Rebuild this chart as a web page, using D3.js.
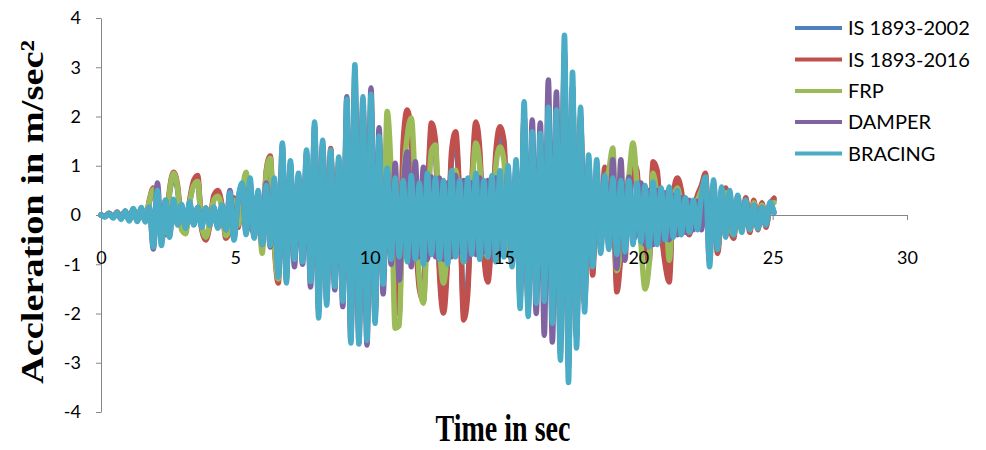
<!DOCTYPE html>
<html>
<head>
<meta charset="utf-8">
<script src="https://cdn.jsdelivr.net/npm/d3@7"></script>
<style>
  html, body { margin: 0; padding: 0; background: #fff; }
  svg { display: block; }
</style>
</head>
<body>
<svg id="chart" width="986" height="450"></svg>
<script>
// Storey acceleration response, sampled every 0.15 s from 0 to 25.05 s
const timeStep = 0.15;

const is2002 = [
  0, -0.03, 0.03, -0.04, 0.05, -0.06, 0.07, -0.09, 0.09, -0.09, 0.1, -0.1, 0.26,
  0.48, 0.3, -0.3, -0.35, 0.44, 0.76, 0.52, -0.18, -0.28, 0.26, 0.62, 0.7, -0.26, -0.45, -0.18, 0.35, 0.44, 0.18, -0.41, -0.26, 0.3, -0.22, 0.44, 0.66, -0.18, -0.3, 0.26,
  -0.57, 0.79, 1.05, -0.53, -1.2, 1.05, -1.05, 0.83, -0.75, 0.66, -0.75, 0.97, -1.05, 1.4, -1.58, 1.23, -1.4, 1.18, -1.15, 0.88,
  -1.32, 1.76, -2.02, 2.29, -2.1, 1.94, -2.02, 1.94, -1.76, 1.32, -1.14, 1.32, 0.7, -1.4, -1.76, 1.32, 1.87, 1.4, -0.26, -1.32,
  -1.54, 0.26, 1.65, 1.32, -1.05, -1.75, -0.8, 1.14, 1.49, 0.26, -1.87, -1.4, 0.53, 1.66, 1.14, -0.7, -1.2, -0.26, 1.14, 1.58,
  1.32, -0.53, -0.8, 0.8, -1.4, 1.76, -1.58, 1.32, -1.4, 1.32, -1.4, 1.67, -1.76, 1.67, -2.29, 2.82, -2.64, 2.29, -2.1, 1.76,
  -1.58, 0.88, -1.07, 0.62, -0.53, 0.85, -0.44, 0.53, -1.37, -0.7, 0.44, 0.26, 0.92, 0.79, -0.44, -0.53, -0.86, 0.95, 0.79, -0.26,
  -0.88, -1.2, 0.35, 0.66, 0.44, -0.18, -0.35, 0.09, 0.35, 0.53, 0.75, -0.53, 0.26, -0.69, 0.18, 0.48, -0.18, -0.41, 0.26, -0.26,
  0.31, -0.31, 0.26, -0.26, 0.22, -0.22, 0.18, 0.3
];

const is2016 = [
  0, -0.03, 0.04, -0.05, 0.06, -0.07, 0.08, -0.1, 0.1, -0.1, 0.12, -0.12, 0.3,
  0.55, 0.35, -0.35, -0.4, 0.5, 0.87, 0.6, -0.2, -0.32, 0.3, 0.7, 0.8, -0.3, -0.51, -0.2, 0.4, 0.5, 0.2, -0.47, -0.3, 0.35, -0.25, 0.5, 0.75, -0.2, -0.35, 0.3,
  -0.65, 0.9, 1.2, -0.6, -1.38, 1.2, -1.2, 0.95, -0.85, 0.75, -0.85, 1.1, -1.2, 1.6, -1.8, 1.4, -1.6, 1.35, -1.3, 1.0,
  -1.5, 2.0, -2.3, 2.6, -2.4, 2.2, -2.3, 2.2, -2.0, 1.5, -1.3, 1.5, 0.8, -1.6, -2.0, 1.5, 2.13, 1.6, -0.3, -1.5,
  -1.75, 0.3, 1.87, 1.5, -1.2, -1.99, -0.9, 1.3, 1.69, 0.3, -2.13, -1.6, 0.6, 1.89, 1.3, -0.8, -1.36, -0.3, 1.3, 1.79,
  1.5, -0.6, -0.9, 0.9, -1.6, 2.0, -1.8, 1.5, -1.6, 1.5, -1.6, 1.9, -2.0, 1.9, -2.6, 3.2, -3.0, 2.6, -2.4, 2.0,
  -1.8, 1.0, -1.22, 0.7, -0.6, 0.97, -0.5, 0.6, -1.56, -0.8, 0.5, 0.3, 1.05, 0.9, -0.5, -0.6, -0.98, 1.08, 0.9, -0.3,
  -1.0, -1.36, 0.4, 0.75, 0.5, -0.2, -0.4, 0.1, 0.4, 0.6, 0.85, -0.6, 0.3, -0.78, 0.2, 0.55, -0.2, -0.47, 0.3, -0.3,
  0.35, -0.35, 0.3, -0.3, 0.25, -0.25, 0.2, 0.34
];

const frp = [
  0, -0.03, 0.03, -0.05, 0.05, -0.06, 0.07, -0.09, 0.1, -0.1, 0.11, -0.11, 0.28,
  0.52, 0.3, -0.3, -0.35, 0.45, 0.85, 0.55, -0.3, -0.38, 0.25, 0.6, 0.68, -0.25, -0.45, -0.15, 0.3, 0.38, 0.15, -0.42, -0.25, 0.3, -0.2, 0.45, 0.87, -0.15, -0.3, 0.2,
  -0.78, 0.85, 1.15, -0.55, -1.3, 1.1, -1.1, 0.9, -0.8, 0.7, -0.8, 1.0, -1.1, 1.5, -1.7, 1.3, -1.5, 1.2, -1.2, 0.9,
  -1.4, 1.9, -2.2, 2.5, -2.3, 2.1, -2.2, 2.0, -1.9, 1.2, -1.0, 2.1, 0.8, -2.3, -2.25, 0.6, 1.6, 1.97, 0.5, -1.3,
  -1.79, -0.2, 1.3, 1.42, -0.6, -1.38, -0.6, 0.8, 0.91, 0.1, -0.95, -0.8, 0.5, 1.46, 1.0, -0.6, -0.85, -0.2, 1.0, 1.38,
  1.1, -0.5, -0.8, 0.8, -1.5, 1.9, -1.7, 1.4, -1.5, 1.4, -1.5, 1.8, -1.9, 1.8, -2.5, 3.0, -2.9, 2.5, -2.3, 1.9,
  -1.7, 0.9, -1.0, 0.6, -0.5, 0.6, 0.9, 1.36, -1.13, -0.6, 0.4, 0.8, 1.46, 0.6, -0.6, -1.5, -1.0, 0.85, 0.3, -0.5,
  0.3, -0.92, 0.3, 0.55, 0.3, 0.3, -0.3, 0.2, 0.3, 0.5, 0.7, -0.5, 0.25, -0.65, 0.15, 0.45, -0.15, -0.4, 0.25, -0.25,
  0.3, -0.3, 0.25, -0.25, 0.2, -0.2, 0.18, 0.25
];

const damper = [
  0, -0.03, 0.03, -0.05, 0.05, -0.07, 0.07, -0.1, 0.11, -0.11, 0.12, -0.12, 0.14,
  -0.69, 0.65, -0.5, 0.3, -0.4, 0.25, -0.2, 0.2, -0.25, 0.22, -0.2, 0.15, -0.22, 0.14, -0.2, 0.15, -0.25, 0.2, -0.3, 0.5, -0.45, 0.3, 0.6, -0.35, 0.65, -0.45, 0.45,
  -0.6, 0.65, -0.65, 0.7, -1.2, 1.4, -1.3, 1.05, -1.05, 0.8, -1.0, 1.25, -1.46, 1.8, -1.95, 1.45, -1.75, 1.25, -1.52, 1.1,
  -1.86, 2.4, -2.55, 2.9, -2.6, 2.35, -2.64, 2.58, -2.1, 1.77, -1.6, 0.9, -1.0, 1.05, -1.32, 0.5, 1.28, -1.05, 1.08, -0.85,
  0.97, -0.9, 0.77, -0.85, 0.75, -0.9, 0.65, -0.85, 0.8, -0.75, 0.7, -0.9, 0.65, -0.8, 0.75, -0.75, 0.7, -0.85, 0.75, -0.8,
  -0.6, 0.9, -1.0, 1.0, -1.7, 2.0, -1.9, 1.93, -2.0, 1.87, -2.44, 2.74, -2.58, 2.5, -2.8, 3.3, -3.1, 2.6, -2.5, 2.0,
  -1.8, 1.1, -1.0, 0.9, -0.7, 0.7, -0.6, 1.12, -1.08, 1.12, -0.92, 0.77, -0.5, -0.3, 0.65, -0.6, 0.5, -0.6, 0.5, -0.5,
  0.45, -0.5, 0.4, -0.4, 0.35, -0.35, 0.3, -0.3, 0.28, -0.3, 0.7, -0.95, 0.65, -0.65, 0.5, -0.4, 0.45, -0.35, 0.38, -0.3,
  0.3, -0.28, 0.2, -0.25, 0.15, -0.2, 0.22, 0.05
];

const bracing = [
  0, -0.04, 0.03, -0.06, 0.05, -0.09, 0.08, -0.12, 0.13, -0.13, 0.15, -0.14, 0.16,
  -0.65, 0.5, -0.62, 0.3, -0.45, 0.32, -0.2, 0.22, -0.27, 0.27, -0.2, 0.15, -0.25, 0.14, -0.2, 0.16, -0.27, 0.2, -0.3, 0.45, -0.51, 0.3, 0.65, -0.4, 0.75, -0.47, 0.5,
  -0.6, 0.6, -0.62, 0.75, -1.26, 1.46, -1.38, 1.1, -0.9, 0.85, -0.95, 1.32, -1.35, 1.89, -2.09, 1.52, -1.83, 1.32, -1.45, 1.18,
  -1.75, 2.35, -2.6, 3.05, -2.62, 2.4, -2.55, 2.45, -2.2, 1.6, -1.4, 0.95, -0.9, 0.75, -0.85, 0.7, -0.95, 0.8, -0.9, 0.65,
  -1.0, 0.85, -0.8, 0.75, -0.9, 0.7, -1.0, 0.9, -0.85, 0.7, -0.95, 0.75, -0.8, 0.85, -0.9, 0.7, -0.85, 0.8, -0.95, 0.9,
  -0.85, 1.0, -1.05, 1.12, -1.9, 2.3, -2.06, 1.69, -1.79, 1.66, -1.75, 2.19, -2.2, 2.13, -2.95, 3.65, -3.4, 2.9, -2.7, 2.19,
  -1.97, 1.22, -1.05, 1.12, -0.78, 0.8, -0.7, 0.75, -0.8, 0.7, -0.75, 0.7, -0.6, 0.65, -0.55, 0.6, -0.65, 0.67, -0.6, 0.55,
  -0.5, 0.57, -0.45, 0.5, -0.4, 0.35, -0.35, 0.3, -0.3, 0.4, 0.77, -1.05, 0.71, -0.7, 0.57, -0.45, 0.5, -0.4, 0.4, -0.35,
  0.3, -0.3, 0.2, -0.28, 0.15, -0.2, 0.26, 0.05
];

const seriesNames = ["IS 1893-2002", "IS 1893-2016", "FRP", "DAMPER", "BRACING"];
const seriesValues = [is2002, is2016, frp, damper, bracing];
const seriesColors = ["#4F81BD", "#C0504D", "#9BBB59", "#8064A2", "#4BACC6"];

const xTicks = [0, 5, 10, 15, 20, 25, 30];
const yTicks = [-4, -3, -2, -1, 0, 1, 2, 3, 4];

const svg = d3.select("#chart");

const x = d3.scaleLinear().domain([0, 30]).range([101, 907]);
const y = d3.scaleLinear().domain([-4, 4]).range([412, 18]);

const tickFont = "Lato, 'Open Sans', sans-serif";
const plainNumber = d => String(d);   // keeps the ASCII hyphen for negatives

const yAxis = d3.axisLeft(y).tickValues(yTicks).tickSize(5).tickPadding(15)
  .tickSizeOuter(0).tickFormat(plainNumber);
const xAxis = d3.axisBottom(x).tickValues(xTicks).tickSize(5).tickPadding(31)
  .tickSizeOuter(0).tickFormat(plainNumber);

// axis lines and tick marks sit underneath the traces
function drawAxisLines(g) {
  g.select(".domain").attr("stroke", "#868686");
  g.selectAll(".tick line").attr("stroke", "#868686");
  g.selectAll(".tick text").remove();
}
svg.append("g").attr("transform", `translate(${x(0)},0)`).call(yAxis).call(drawAxisLines);
svg.append("g").attr("transform", `translate(0,${y(0)})`).call(xAxis).call(drawAxisLines);

// response traces
const line = d3.line()
  .x((d, i) => x(i * timeStep))
  .y(d => y(d))
  .curve(d3.curveMonotoneX);

svg.append("g").selectAll("path")
  .data(seriesValues)
  .join("path")
  .attr("d", line)
  .attr("fill", "none")
  .attr("stroke", (d, i) => seriesColors[i])
  .attr("stroke-width", 5.5)
  .attr("stroke-linejoin", "round")
  .attr("stroke-linecap", "round");

// tick labels drawn over the traces
function drawAxisLabels(g) {
  g.select(".domain").remove();
  g.selectAll(".tick line").remove();
  g.selectAll(".tick text")
    .attr("font-family", tickFont).attr("font-size", 18).attr("fill", "#000");
}
svg.append("g").attr("transform", `translate(${x(0)},0)`).call(yAxis).call(drawAxisLabels);
svg.append("g").attr("transform", `translate(0,${y(0)})`).call(xAxis).call(drawAxisLabels);

// legend
const legend = svg.append("g");
const legendRows = [28, 59.5, 91, 122, 153.5];
seriesNames.forEach((name, i) => {
  legend.append("line")
    .attr("x1", 795).attr("x2", 842)
    .attr("y1", legendRows[i]).attr("y2", legendRows[i])
    .attr("stroke", seriesColors[i]).attr("stroke-width", 4);
  legend.append("text")
    .attr("x", 848).attr("y", legendRows[i])
    .attr("dy", "0.35em")
    .attr("font-family", tickFont).attr("font-size", 20)
    .attr("fill", "#000")
    .text(name);
});

// axis titles
svg.append("text")
  .attr("transform", "translate(43,212) rotate(-90) scale(1.2,1)")
  .attr("text-anchor", "middle")
  .attr("font-family", "'Liberation Serif', 'Times New Roman', serif")
  .attr("font-weight", "bold")
  .attr("font-size", 32)
  .attr("fill", "#000")
  .text("Accleration in m/sec²");

svg.append("text")
  .attr("transform", "translate(503,441) scale(1,1.35)")
  .attr("text-anchor", "middle")
  .attr("font-family", "'Liberation Serif', 'Times New Roman', serif")
  .attr("font-weight", "bold")
  .attr("font-size", 28)
  .attr("fill", "#000")
  .text("Time in sec");
</script>
</body>
</html>
